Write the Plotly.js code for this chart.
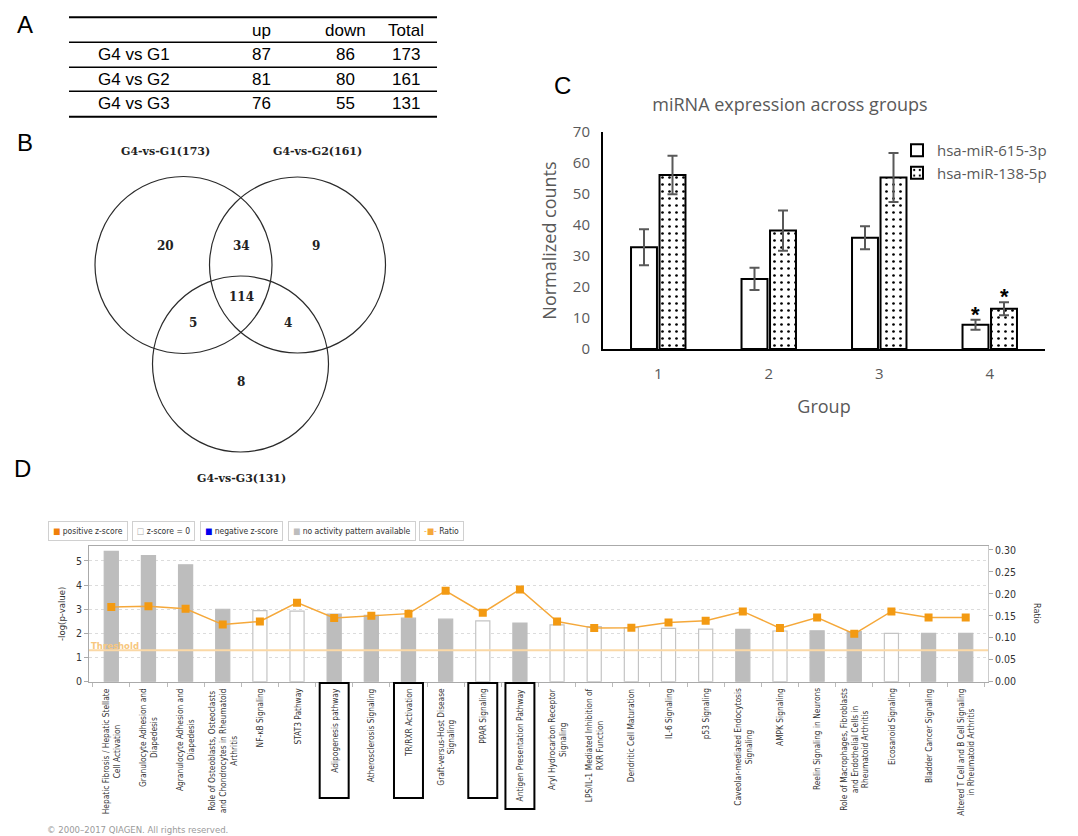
<!DOCTYPE html>
<html><head><meta charset="utf-8">
<script src="https://cdn.plot.ly/plotly-3.0.1.min.js"></script>
<style>html,body{margin:0;padding:0;background:#fff}#chart{width:1078px;height:836px}</style>
</head><body><div id="chart"></div>
<script>
// ---------- Panel A: DE miRNA counts table ----------
const tableCols = ['up', 'down', 'Total'];
const tableRows = ['G4 vs G1', 'G4 vs G2', 'G4 vs G3'];
const upCounts = [87, 81, 76];
const downCounts = [86, 80, 55];
const totalCounts = [173, 161, 131];

// ---------- Panel B: Venn ----------
const vennSets = ['G4-vs-G1(173)', 'G4-vs-G2(161)', 'G4-vs-G3(131)'];
const vennRegions = ['G1 only', 'G1&G2', 'G2 only', 'G1&G2&G3', 'G1&G3', 'G2&G3', 'G3 only'];
const vennCounts = [20, 34, 9, 114, 5, 4, 8];

// ---------- Panel C: miRNA expression ----------
const groups = [1, 2, 3, 4];
const seriesNames = ['hsa-miR-615-3p', 'hsa-miR-138-5p'];
const mir615 = [32.8, 22.6, 35.9, 7.8];
const mir615Err = [5.8, 3.6, 3.7, 1.6];
const mir138 = [56.1, 38.2, 55.3, 13.0];
const mir138Err = [6.2, 6.5, 7.9, 2.1];
const sig615 = [false, false, false, true];
const sig138 = [false, false, false, true];

// ---------- Panel D: IPA canonical pathways ----------
const pathways = [
  'Hepatic Fibrosis / Hepatic Stellate<br>Cell Activation',
  'Granulocyte Adhesion and<br>Diapedesis',
  'Agranulocyte Adhesion and<br>Diapedesis',
  'Role of Osteoblasts, Osteoclasts<br>and Chondrocytes in Rheumatoid<br>Arthritis',
  'NF-κB Signaling',
  'STAT3 Pathway',
  'Adipogenesis pathway',
  'Atherosclerosis Signaling',
  'TR/RXR Activation',
  'Graft-versus-Host Disease<br>Signaling',
  'PPAR Signaling',
  'Antigen Presentation Pathway',
  'Aryl Hydrocarbon Receptor<br>Signaling',
  'LPS/IL-1 Mediated Inhibition of<br>RXR Function',
  'Dendritic Cell Maturation',
  'IL-6 Signaling',
  'p53 Signaling',
  'Caveolar-mediated Endocytosis<br>Signaling',
  'AMPK Signaling',
  'Reelin Signaling in Neurons',
  'Role of Macrophages, Fibroblasts<br>and Endothelial Cells in<br>Rheumatoid Arthritis',
  'Eicosanoid Signaling',
  'Bladder Cancer Signaling',
  'Altered T Cell and B Cell Signaling<br>in Rheumatoid Arthritis'
];
const negLogP = [5.40, 5.22, 4.84, 3.00, 2.94, 2.92, 2.80, 2.75, 2.63, 2.59, 2.52, 2.43,
                 2.35, 2.28, 2.24, 2.21, 2.18, 2.17, 2.10, 2.11, 2.07, 2.00, 2.00, 2.00];
const ratio = [0.170, 0.172, 0.166, 0.130, 0.137, 0.180, 0.145, 0.150, 0.155, 0.207, 0.157, 0.210,
               0.137, 0.122, 0.123, 0.135, 0.139, 0.160, 0.122, 0.146, 0.109, 0.160, 0.146, 0.146];
const zStatus = ['na','na','na','na','zero','zero','na','na','na','na','zero','na',
                 'zero','zero','zero','zero','zero','na','zero','na','na','zero','na','na'];
const highlighted = ['Adipogenesis pathway', 'TR/RXR Activation', 'PPAR Signaling', 'Antigen Presentation Pathway'];
const threshold = 1.3;
const legendItems = ['positive z-score', 'z-score = 0', 'negative z-score', 'no activity pattern available', 'Ratio'];

// ---------- helpers (pixel -> paper) ----------
const W = 1078, H = 836;
const px = x => x / W;
const py = y => 1 - y / H;

const shapes = [];
const annotations = [];
const FA = 'Liberation Sans, Arial, sans-serif';
const FD = "'DejaVu Sans Condensed', 'Liberation Sans Narrow', 'Liberation Sans', sans-serif";

// panel letters
[['A', 25, 24], ['B', 25, 143], ['C', 562, 85], ['D', 22, 468]].forEach(([t, x, y]) => {
  annotations.push({text: t, xref: 'paper', yref: 'paper', x: px(x), y: py(y), xanchor: 'center', yanchor: 'middle',
    showarrow: false, font: {family: FA, size: 24, color: '#000'}});
});

// ---------- Panel A ----------
const ruleY = [17.3, 42.3, 67.3, 91.3, 116.7];
ruleY.forEach((y, i) => {
  shapes.push({type: 'line', xref: 'paper', yref: 'paper', x0: px(69), x1: px(437), y0: py(y), y1: py(y),
    line: {color: '#000', width: (i === 0 || i === ruleY.length - 1) ? 2 : 1.6}});
});
const colX = [261, 345, 406];
tableCols.forEach((c, j) => {
  annotations.push({text: c, xref: 'paper', yref: 'paper', x: px(colX[j]), y: py(31), xanchor: 'center', yanchor: 'middle',
    showarrow: false, font: {family: FA, size: 17, color: '#000'}});
});
tableRows.forEach((r, i) => {
  const yc = (ruleY[i + 1] + ruleY[i + 2]) / 2;
  annotations.push({text: r, xref: 'paper', yref: 'paper', x: px(96), y: py(yc), xanchor: 'left', yanchor: 'middle',
    showarrow: false, font: {family: FA, size: 17, color: '#000'}});
  [upCounts[i], downCounts[i], totalCounts[i]].forEach((v, j) => {
    annotations.push({text: String(v), xref: 'paper', yref: 'paper', x: px(colX[j]), y: py(yc), xanchor: 'center', yanchor: 'middle',
      showarrow: false, font: {family: FA, size: 17, color: '#000'}});
  });
});

// ---------- Panel B ----------
const circles = [[183.5, 265, 88.5], [297.5, 265, 88], [240.5, 364, 88]];
circles.forEach(([cx, cy, r]) => {
  shapes.push({type: 'circle', xref: 'paper', yref: 'paper', x0: px(cx - r), x1: px(cx + r), y0: py(cy + r), y1: py(cy - r),
    line: {color: '#2b2b2b', width: 1.2}});
});
const setLabelPos = [[165, 151], [317, 151], [241, 478]];
const FS = "'DejaVu Serif', 'Liberation Serif', serif";
vennSets.forEach((s, i) => {
  annotations.push({text: '<b>' + s + '</b>', xref: 'paper', yref: 'paper', x: px(setLabelPos[i][0]), y: py(setLabelPos[i][1]),
    xanchor: 'center', yanchor: 'middle', showarrow: false, font: {family: FS, size: 11, color: '#222'}});
});
const regionPos = [[165, 246], [241, 246], [316, 246], [241, 297], [193, 323], [288, 323], [241, 382]];
vennCounts.forEach((v, i) => {
  annotations.push({text: '<b>' + v + '</b>', xref: 'paper', yref: 'paper', x: px(regionPos[i][0]), y: py(regionPos[i][1]),
    xanchor: 'center', yanchor: 'middle', showarrow: false, font: {family: FS, size: 12, color: '#222'}});
});

// ---------- Panel C ----------
const bargap = 0.484;
const slot = (1 - bargap) / 2;
const traces = [];
traces.push({type: 'bar', name: seriesNames[0], x: groups, y: mir615, xaxis: 'x', yaxis: 'y',
  marker: {color: '#fff', line: {color: '#000', width: 2}},
  error_y: {type: 'data', array: mir615Err, visible: true, color: '#595959', thickness: 2, width: 5}});
traces.push({type: 'bar', name: seriesNames[1], x: groups, y: mir138, xaxis: 'x', yaxis: 'y',
  marker: {color: '#fff', line: {color: '#000', width: 2},
    pattern: {shape: '.', fgcolor: '#000', bgcolor: '#fff', size: 7, solidity: 0.12}},
  error_y: {type: 'data', array: mir138Err, visible: true, color: '#595959', thickness: 2, width: 5}});
[[mir615, mir615Err, sig615, -1], [mir138, mir138Err, sig138, 1]].forEach(([vals, errs, sig, side]) => {
  groups.forEach((g, i) => {
    if (!sig[i]) return;
    annotations.push({text: '<b>*</b>', xref: 'x', yref: 'y', x: g + side * slot / 2, y: vals[i] + errs[i],
      xanchor: 'center', yanchor: 'bottom', yshift: -9, showarrow: false, font: {family: FA, size: 22, color: '#000'}});
  });
});

// ---------- Panel D ----------
const barFill = zStatus.map(s => s === 'na' ? '#bdbdbd' : '#ffffff');
const barLine = zStatus.map(s => s === 'na' ? '#bdbdbd' : '#c4c4c4');
traces.push({type: 'bar', x: pathways, y: negLogP, xaxis: 'x2', yaxis: 'y2', width: 0.38, showlegend: false,
  marker: {color: barFill, line: {color: barLine, width: 1.2}}});
traces.push({type: 'scatter', mode: 'lines+markers', x: pathways, y: ratio, xaxis: 'x2', yaxis: 'y3', showlegend: false,
  line: {color: '#f5a83a', width: 1.5}, marker: {symbol: 'square', size: 8, color: '#f39a12'}});

shapes.push({type: 'line', xref: 'x2 domain', yref: 'y2', x0: 0, x1: 1, y0: threshold, y1: threshold,
  line: {color: '#fbd8a5', width: 2}});
annotations.push({text: '<b>Threshold</b>', xref: 'x2 domain', yref: 'y2', x: 0, y: threshold, xanchor: 'left', yanchor: 'bottom',
  yshift: -3, showarrow: false, font: {family: FD, size: 9.5, color: '#f7c77e'}});

// category labels (rotated, centered lines)
pathways.forEach((p, i) => {
  annotations.push({text: p, xref: 'x2', yref: 'paper', x: i, y: py(686), xanchor: 'center', yanchor: 'top',
    textangle: -90, align: 'center', showarrow: false, font: {family: FD, size: 8.3, color: '#333'}});
});
// boxes around highlighted pathways
const boxBottoms = {'Adipogenesis pathway': 798, 'TR/RXR Activation': 798, 'PPAR Signaling': 798, 'Antigen Presentation Pathway': 809};
highlighted.forEach(h => {
  const i = pathways.indexOf(h);
  shapes.push({type: 'rect', xref: 'x2', yref: 'paper', x0: i - 0.39, x1: i + 0.39, y0: py(boxBottoms[h]), y1: py(683),
    line: {color: '#000', width: 2}});
});

// legend of panel D
const legendSymbols = ['<span style="color:#f07f09">■</span>', '<span style="color:#aaa">□</span>',
  '<span style="color:#0000ee">■</span>', '<span style="color:#bdbdbd">■</span>', '<span style="color:#f5a83a">-■-</span>'];
const legendLeft = [48, 132, 200, 288, 419];
legendItems.forEach((t, i) => {
  annotations.push({text: legendSymbols[i] + ' ' + t, xref: 'paper', yref: 'paper', x: px(legendLeft[i]), y: py(530.5),
    xanchor: 'left', yanchor: 'middle', showarrow: false, bordercolor: '#d0d0d0', borderwidth: 1, borderpad: 4,
    font: {family: FD, size: 8.5, color: '#333'}});
});
annotations.push({text: 'Ratio', xref: 'paper', yref: 'paper', x: px(1037), y: py(613), xanchor: 'center', yanchor: 'middle',
  textangle: 90, showarrow: false, font: {family: FD, size: 9, color: '#333'}});
annotations.push({text: '© 2000–2017 QIAGEN. All rights reserved.', xref: 'paper', yref: 'paper', x: px(45), y: py(829),
  xanchor: 'left', yanchor: 'middle', showarrow: false, font: {family: FD, size: 9.5, color: '#9a9a9a'}});

const layout = {
  width: W, height: H, margin: {l: 0, r: 0, t: 0, b: 0},
  paper_bgcolor: '#fff', plot_bgcolor: 'rgba(0,0,0,0)',
  font: {family: "'Open Sans', 'Noto Sans', sans-serif", color: '#595959'},
  barmode: 'group', bargap: bargap, bargroupgap: 0.09,
  title: {text: 'miRNA expression across groups', x: px(790), y: py(105), xanchor: 'center', yanchor: 'middle',
    xref: 'paper', yref: 'paper', font: {size: 18, color: '#595959'}},
  showlegend: true,
  legend: {x: px(897), y: py(134), xanchor: 'left', yanchor: 'top', font: {size: 15, color: '#595959'},
    bgcolor: 'rgba(0,0,0,0)', itemwidth: 30, tracegroupgap: 4},
  xaxis: {domain: [px(603), px(1045)], anchor: 'y', range: [0.5, 4.5], tickvals: groups, ticks: '',
    showline: true, linecolor: '#000', linewidth: 2, showgrid: false, zeroline: false, ticklabelstandoff: 10,
    tickfont: {size: 15, color: '#595959'},
    title: {text: 'Group', font: {size: 18, color: '#595959'}, standoff: 18}},
  yaxis: {domain: [py(349), py(132)], anchor: 'x', range: [0, 70], dtick: 10, ticks: '', ticklabelstandoff: 8,
    showline: true, linecolor: '#000', linewidth: 2, showgrid: false, zeroline: false,
    tickfont: {size: 15, color: '#595959'},
    title: {text: 'Normalized counts', font: {size: 18, color: '#595959'}, standoff: 12}},
  xaxis2: {domain: [px(89), px(988)], anchor: 'y2', type: 'category', range: [-0.6, 23.6],
    showticklabels: false, ticks: 'outside', tickson: 'boundaries', ticklen: 4, tickcolor: '#bbb',
    showline: true, linecolor: '#aaa', linewidth: 1, mirror: true, showgrid: false, zeroline: false},
  yaxis2: {domain: [py(681.7), py(546)], anchor: 'x2', range: [0, 5.62], dtick: 1, ticks: 'outside', ticklen: 4,
    tickcolor: '#aaa', showline: true, linecolor: '#aaa', linewidth: 1, zeroline: false,
    showgrid: true, gridcolor: '#dcdcdc', griddash: 'dot', gridwidth: 1,
    tickfont: {family: FD, size: 10.5, color: '#333'},
    title: {text: '-log(p-value)', font: {family: FD, size: 9.5, color: '#333'}, standoff: 8}},
  yaxis3: {overlaying: 'y2', anchor: 'x2', side: 'right', range: [0, 0.309], tickvals: [0, 0.05, 0.1, 0.15, 0.2, 0.25, 0.3],
    tickformat: '.2f', ticks: 'outside', ticklen: 4, tickcolor: '#aaa', showline: true, linecolor: '#ccc',
    showgrid: false, zeroline: false, tickfont: {family: FD, size: 10.5, color: '#333'}},
  shapes: shapes,
  annotations: annotations
};

Plotly.newPlot('chart', traces, layout, {displayModeBar: false, staticPlot: true});
</script>
</body></html>
